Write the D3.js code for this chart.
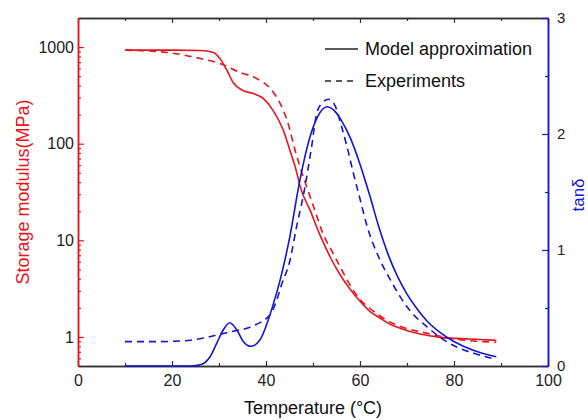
<!DOCTYPE html>
<html>
<head>
<meta charset="utf-8">
<script src="https://cdn.jsdelivr.net/npm/d3@7"></script>
<style>
  body { margin: 0; background: #fff; }
  svg { font-family: "Liberation Sans", Arial, sans-serif; }
</style>
</head>
<body>
<svg width="588" height="420"></svg>
<script>
const svg = d3.select('svg');
const red = '#e8141c';
const blue = '#1414d2';

// storage modulus, model (solid red)
const modelModT = [10, 20, 26, 28.8, 30.2, 31.7, 33, 35.1, 37.3, 39.4, 41.5, 43.7, 45.1, 46.6, 47.2,
  49.4, 51.5, 53.6, 55.7, 57.9, 60, 62.1, 64.3, 66.4, 68.5, 72.8, 77, 83.4, 89];
const modelMod = [930, 930, 922, 880, 762, 573, 430, 355, 331, 294, 221, 137, 85, 49, 37,
  20.4, 11.3, 6.8, 4.45, 3.11, 2.34, 1.84, 1.56, 1.35, 1.23, 1.07, 0.99, 0.95, 0.92];

// storage modulus, experiments (dashed red)
const expModT = [10, 18.9, 26, 30.2, 34.5, 38, 40.9, 43, 44.7, 46.2, 47.7, 48.7,
  50.4, 52.1, 54.3, 56.4, 57.9, 60, 62.1, 65.7, 69.1, 74.3, 79.1, 89];
const expMod = [930, 880, 762, 677, 546, 473, 373, 261, 162, 85, 49, 35.3,
  20.4, 11.8, 7.3, 4.67, 3.43, 2.45, 1.98, 1.49, 1.26, 1.09, 0.97, 0.88];

// tan delta, model (solid blue)
const modelTanT = [10, 24, 26, 27, 28.1, 29.5, 30.9, 32.3, 33.8, 35.2, 36.8, 38.7, 40.5, 41.6, 43,
  45, 47.2, 49.4, 51, 53, 55, 56, 58, 60, 62, 64, 66, 68, 70, 72, 74.2, 78.4, 82, 86, 89];
const modelTan = [0, 0, 0.01, 0.03, 0.08, 0.195, 0.31, 0.373, 0.31, 0.21, 0.17, 0.224, 0.40, 0.54, 0.74,
  1.1, 1.6, 1.98, 2.15, 2.235, 2.18, 2.12, 1.96, 1.74, 1.48, 1.2, 0.96, 0.77, 0.62, 0.5, 0.39, 0.25, 0.17, 0.11, 0.08];

// tan delta, experiments (dashed blue)
const expTanT = [10, 16, 22.8, 26, 30.2, 33, 35.9, 38, 40.1, 41.3, 42.3, 43.3, 45.1, 46.5, 47.9,
  49.7, 50.8, 52, 53.3, 54.5, 56.1, 57.3, 58.6, 60, 61.4, 64.3, 66.5, 68.5, 71, 74.2, 78.4, 82, 85, 88];
const expTan = [0.21, 0.21, 0.218, 0.235, 0.273, 0.30, 0.325, 0.36, 0.41, 0.47, 0.57, 0.70, 0.91, 1.2, 1.46,
  1.89, 2.18, 2.27, 2.30, 2.26, 2.06, 1.88, 1.66, 1.44, 1.22, 0.91, 0.74, 0.60, 0.46, 0.34, 0.21, 0.14, 0.10, 0.066];

const xTicks = [0, 20, 40, 60, 80, 100];
const xMinor = [10, 30, 50, 70, 90];
const modTicks = [1, 10, 100, 1000];
const tanTicks = [0, 1, 2, 3];
const tanMinor = [0.5, 1.5, 2.5];

const legendItems = ['Model approximation', 'Experiments'];

const x = d3.scaleLinear().domain([0, 100]).range([78, 548]);
const yMod = d3.scaleLog().domain([0.5, 2000]).range([366, 18]);
const yTan = d3.scaleLinear().domain([0, 3]).range([366, 18]);

// minor log ticks 2..9 of every decade inside the domain
const modMinor = [];
[0.1, 1, 10, 100, 1000].forEach(dec => {
  for (let k = 2; k <= 9; k++) {
    const v = dec * k;
    if (v > 0.5 && v < 2000 && modTicks.indexOf(v) < 0) modMinor.push(v);
  }
});

function styleAxis(g, col, size) {
  g.select('.domain').attr('stroke', col).attr('stroke-width', 1.5);
  g.selectAll('.tick line').attr('stroke', col).attr('stroke-width', 1.2);
  g.selectAll('.tick text').attr('fill', '#222').style('font-size', (size || 16) + 'px');
}

// bottom
svg.append('g').attr('transform', 'translate(0,366)')
  .call(d3.axisBottom(x).tickValues(xMinor).tickSize(-3).tickSizeOuter(0).tickFormat(''))
  .call(g => styleAxis(g, '#333'));
svg.append('g').attr('transform', 'translate(0,366)')
  .call(d3.axisBottom(x).tickValues(xTicks).tickSize(-5).tickSizeOuter(0).tickPadding(9))
  .call(g => styleAxis(g, '#333'));

// top
svg.append('g').attr('transform', 'translate(0,18)')
  .call(d3.axisTop(x).tickValues(xMinor).tickSize(-3).tickSizeOuter(0).tickFormat(''))
  .call(g => styleAxis(g, '#333'));
svg.append('g').attr('transform', 'translate(0,18)')
  .call(d3.axisTop(x).tickValues(xTicks).tickSize(-5).tickSizeOuter(0).tickFormat(''))
  .call(g => styleAxis(g, '#333'));

// left, log
svg.append('g').attr('transform', 'translate(78,0)')
  .call(d3.axisLeft(yMod).tickValues(modMinor).tickSize(-3).tickSizeOuter(0).tickFormat(''))
  .call(g => styleAxis(g, red));
svg.append('g').attr('transform', 'translate(78,0)')
  .call(d3.axisLeft(yMod).tickValues(modTicks).tickSize(-6).tickSizeOuter(0).tickPadding(4)
    .tickFormat(d3.format('d')))
  .call(g => styleAxis(g, red));

// right
svg.append('g').attr('transform', 'translate(548,0)')
  .call(d3.axisRight(yTan).tickValues(tanMinor).tickSize(-3).tickSizeOuter(0).tickFormat(''))
  .call(g => styleAxis(g, blue));
svg.append('g').attr('transform', 'translate(548,0)')
  .call(d3.axisRight(yTan).tickValues(tanTicks).tickSize(-6).tickSizeOuter(0).tickPadding(9)
    .tickFormat(d3.format('d')))
  .call(g => styleAxis(g, blue, 15));

// curves
const lineMod = d3.line().x(d => x(d[0])).y(d => yMod(d[1])).curve(d3.curveMonotoneX);
const lineTan = d3.line().x(d => x(d[0])).y(d => yTan(d[1])).curve(d3.curveMonotoneX);

const series = [
  { pts: d3.zip(modelModT, modelMod), line: lineMod, col: red, dash: null },
  { pts: d3.zip(expModT, expMod), line: lineMod, col: red, dash: '7,5' },
  { pts: d3.zip(modelTanT, modelTan), line: lineTan, col: blue, dash: null },
  { pts: d3.zip(expTanT, expTan), line: lineTan, col: blue, dash: '7,5' }
];

svg.append('g').attr('class', 'curves')
  .selectAll('path')
  .data(series)
  .join('path')
  .attr('d', d => d.line(d.pts))
  .attr('fill', 'none')
  .attr('stroke', d => d.col)
  .attr('stroke-width', 1.6)
  .attr('stroke-dasharray', d => d.dash);

// legend
const legend = svg.append('g').attr('class', 'legend')
  .selectAll('g')
  .data(legendItems)
  .join('g')
  .attr('transform', (d, i) => `translate(325,${49 + i * 32})`);
legend.append('line')
  .attr('x1', 0).attr('x2', 33)
  .attr('stroke', '#222').attr('stroke-width', 1.6)
  .attr('stroke-dasharray', (d, i) => i ? '6,5' : null);
legend.append('text')
  .attr('x', 40).attr('dy', '0.35em')
  .style('font-size', '18px').attr('fill', '#111')
  .text(d => d);

// axis titles
svg.append('text')
  .attr('x', 313).attr('y', 414)
  .attr('text-anchor', 'middle')
  .style('font-size', '18px').attr('fill', '#111')
  .text('Temperature (°C)');
svg.append('text')
  .attr('transform', 'translate(29,192) rotate(-90)')
  .attr('text-anchor', 'middle')
  .style('font-size', '18px').attr('fill', red)
  .text('Storage modulus(MPa)');
svg.append('text')
  .attr('transform', 'translate(584,195) rotate(-90)')
  .attr('text-anchor', 'middle')
  .style('font-size', '17px').attr('fill', blue)
  .text('tanδ');
</script>
</body>
</html>
